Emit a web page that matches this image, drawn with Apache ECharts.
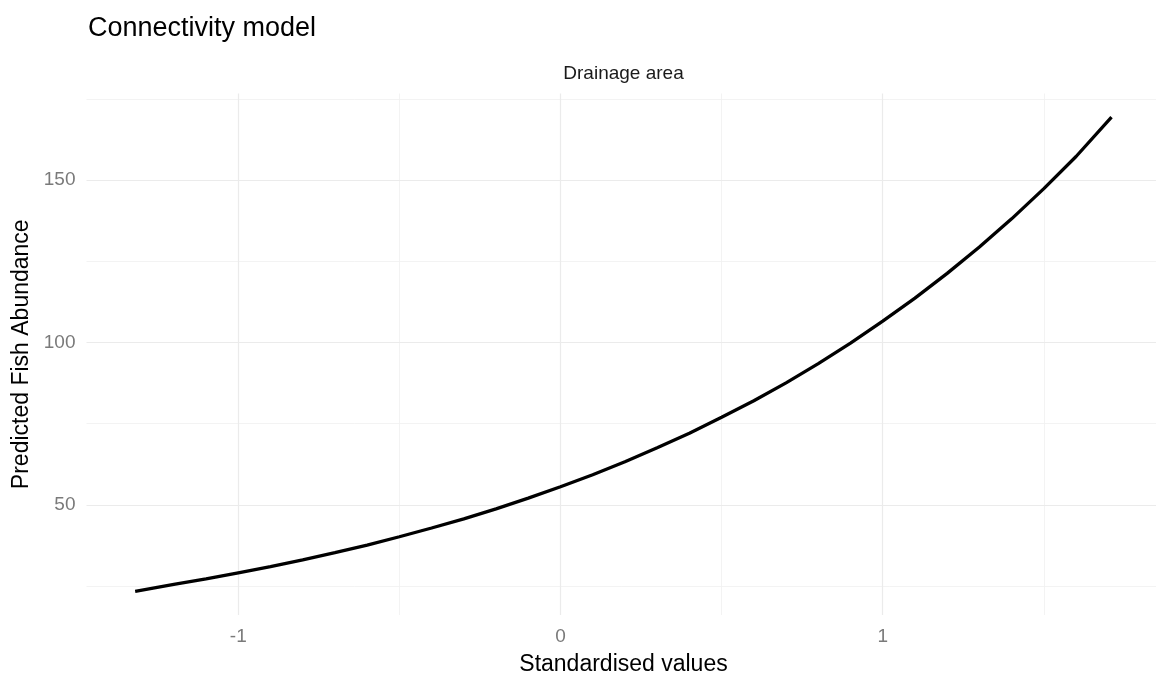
<!DOCTYPE html>
<html>
<head>
<meta charset="utf-8">
<script src="https://cdn.jsdelivr.net/npm/echarts@6/dist/echarts.min.js"></script>
<style>
  html, body { margin: 0; padding: 0; background: #fff; }
  #chart { width: 1156px; height: 674px; }
</style>
</head>
<body>
<div id="chart"></div>
<script>
// Predicted fish abundance along standardised drainage area
const xValues = [-1.32, -1.2, -1.1, -1.0, -0.9, -0.8, -0.7, -0.6, -0.5, -0.4, -0.3, -0.2, -0.1,
  0.0, 0.1, 0.2, 0.3, 0.4, 0.5, 0.6, 0.7, 0.8, 0.9, 1.0, 1.1, 1.2, 1.3, 1.4, 1.5, 1.6, 1.71];
const abundance = [23.4, 25.5, 27.2, 29.1, 31.0, 33.1, 35.3, 37.6, 40.2, 42.9, 45.7, 48.8, 52.1,
  55.6, 59.3, 63.3, 67.6, 72.1, 77.0, 82.1, 87.6, 93.5, 99.8, 106.6, 113.7, 121.3, 129.4, 138.1, 147.4, 157.3, 169.4];

const xBreaks = [-1, 0, 1];
const xMinorBreaks = [-1.5, -0.5, 0.5, 1.5];
const yBreaks = [50, 100, 150];
const yMinorBreaks = [25, 75, 125, 175];

const titleText = 'Connectivity model';
const panelLabel = 'Drainage area';
const xTitle = 'Standardised values';
const yTitle = 'Predicted Fish Abundance';

const FONT = '"Liberation Sans", Arial, sans-serif';

const points = xValues.map((x, i) => [x, abundance[i]]);

function gridLines(axisKey, values, width, color) {
  return values.map(v => ({
    [axisKey]: v,
    lineStyle: { color: color, width: width, type: 'solid' }
  }));
}

const chart = echarts.init(document.getElementById('chart'), null, { renderer: 'canvas' });

chart.setOption({
  animation: false,
  backgroundColor: '#ffffff',
  title: {
    text: titleText,
    left: 83,
    top: 10,
    textStyle: { fontFamily: FONT, fontSize: 27, fontWeight: 'normal', color: '#000000' }
  },
  graphic: [{
    type: 'text',
    x: 623.5,
    y: 74,
    style: {
      text: panelLabel,
      fontFamily: FONT,
      fontSize: 19,
      fill: '#1a1a1a',
      textAlign: 'center',
      textVerticalAlign: 'middle'
    }
  }],
  grid: {
    left: 86.5, right: -4.5, top: 93.5, bottom: 59,
    containLabel: false,
    outerBoundsMode: 'none'
  },
  xAxis: {
    type: 'value',
    min: -1.471,
    max: 1.862,
    axisLine: { show: false },
    axisTick: { show: false },
    splitLine: { show: false },
    axisLabel: {
      customValues: xBreaks,
      margin: 12,
      fontFamily: FONT,
      fontSize: 19,
      color: '#7a7a7a'
    },
    name: xTitle,
    nameLocation: 'middle',
    nameGap: 38,
    nameTextStyle: { fontFamily: FONT, fontSize: 23, color: '#000000' }
  },
  yAxis: {
    type: 'value',
    min: 16.1,
    max: 176.7,
    axisLine: { show: false },
    axisTick: { show: false },
    splitLine: { show: false },
    axisLabel: {
      customValues: yBreaks,
      margin: 11,
      fontFamily: FONT,
      fontSize: 19,
      color: '#7a7a7a'
    },
    name: yTitle,
    nameLocation: 'middle',
    nameGap: 47,
    nameTextStyle: { fontFamily: FONT, fontSize: 23, color: '#000000' }
  },
  series: [{
    type: 'line',
    data: points,
    showSymbol: false,
    smooth: false,
    clip: false,
    lineStyle: { color: '#000000', width: 3.3 },
    z: 5,
    markLine: {
      silent: true,
      symbol: ['none', 'none'],
      label: { show: false },
      z: 1,
      data: [
        ...gridLines('xAxis', xMinorBreaks, 0.8, '#f0f0f0'),
        ...gridLines('yAxis', yMinorBreaks, 0.8, '#f0f0f0'),
        ...gridLines('xAxis', xBreaks, 1.2, '#ebebeb'),
        ...gridLines('yAxis', yBreaks, 1.2, '#ebebeb')
      ]
    }
  }]
});
</script>
</body>
</html>
